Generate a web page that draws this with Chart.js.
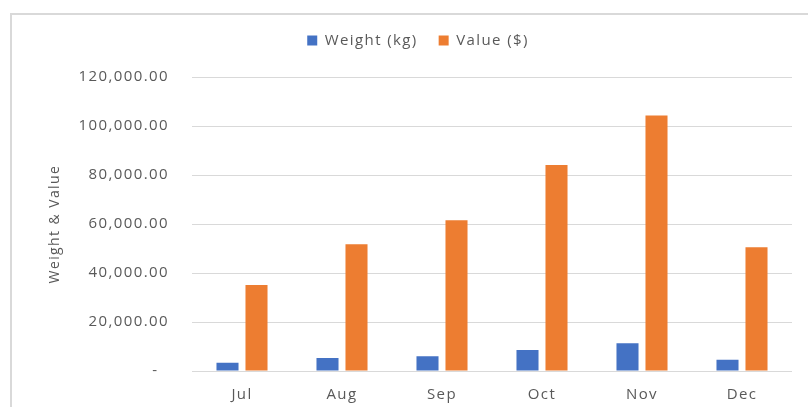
<!DOCTYPE html>
<html>
<head>
<meta charset="utf-8">
<script src="https://cdn.jsdelivr.net/npm/chart.js@4"></script>
<style>
  html, body { margin: 0; padding: 0; background: #fff; }
  #wrap { position: relative; width: 808px; height: 407px; overflow: hidden; }
  #c { position: absolute; left: 0; top: 0; }
  #frame { position: absolute; left: 10px; top: 13px; right: -5px; bottom: -5px;
           border-left: 2px solid #d9d9d9; border-top: 2px solid #d9d9d9; pointer-events: none; }
</style>
</head>
<body>
<div id="wrap">
  <canvas id="c" width="808" height="407"></canvas>
  <div id="frame"></div>
</div>
<script>
const months = ['Jul', 'Aug', 'Sep', 'Oct', 'Nov', 'Dec'];
const weightKg = [3400, 5300, 6000, 8600, 11300, 4600];
const valueUsd = [35100, 51800, 61600, 84100, 104400, 50500];
const yTicks = [0, 20000, 40000, 60000, 80000, 100000, 120000];
const seriesNames = ['Weight (kg)', 'Value ($)'];
const axisTitle = 'Weight & Value';

const FONT = 'Open Sans';
const TXT = '#595959';
const LS = '1.4px';

function setLS(chart) { try { chart.ctx.letterSpacing = LS; } catch (e) {} }
const spacingPlugin = {
  id: 'spacing',
  beforeUpdate: setLS,
  beforeLayout: setLS,
  beforeDraw: setLS,
  beforeDatasetsDraw: setLS
};

new Chart(document.getElementById('c'), {
  type: 'bar',
  data: {
    labels: months,
    datasets: [
      { label: seriesNames[0], data: weightKg, backgroundColor: '#4472C4',
        categoryPercentage: 0.58, barPercentage: 0.76 },
      { label: seriesNames[1], data: valueUsd, backgroundColor: '#ED7D31',
        categoryPercentage: 0.58, barPercentage: 0.76 }
    ]
  },
  plugins: [spacingPlugin],
  options: {
    responsive: false,
    animation: false,
    layout: { padding: { top: 12, right: 16, bottom: 0, left: 44 } },
    plugins: {
      legend: {
        position: 'top',
        labels: { boxWidth: 10, boxHeight: 10, color: TXT, padding: 21,
                  font: { family: FONT, size: 15 } }
      },
      subtitle: { display: true, text: ' ', position: 'top', weight: 500,
                  font: { size: 1 }, padding: { top: 0, bottom: 18 } },
      tooltip: { enabled: false }
    },
    scales: {
      x: {
        afterFit(scale) { scale.height = 36; },
        grid: { display: false, drawTicks: false },
        border: { display: false },
        ticks: { color: TXT, padding: 15, font: { family: FONT, size: 15 } }
      },
      y: {
        min: 0, max: 120000,
        afterBuildTicks(scale) { scale.ticks = yTicks.map(v => ({ value: v })); },
        afterFit(scale) { scale.width = 148; },
        grid: { color: '#d9d9d9', lineWidth: 1, drawTicks: false },
        border: { display: false },
        ticks: {
          color: TXT, padding: 23, font: { family: FONT, size: 15 },
          callback(v) {
            if (v === 0) return '-  ';
            return v.toLocaleString('en-US', { minimumFractionDigits: 2, maximumFractionDigits: 2 });
          }
        },
        title: { display: true, text: axisTitle, color: TXT,
                 font: { family: FONT, size: 14 }, padding: { top: 3, bottom: 0 } }
      }
    }
  }
});
</script>
</body>
</html>
